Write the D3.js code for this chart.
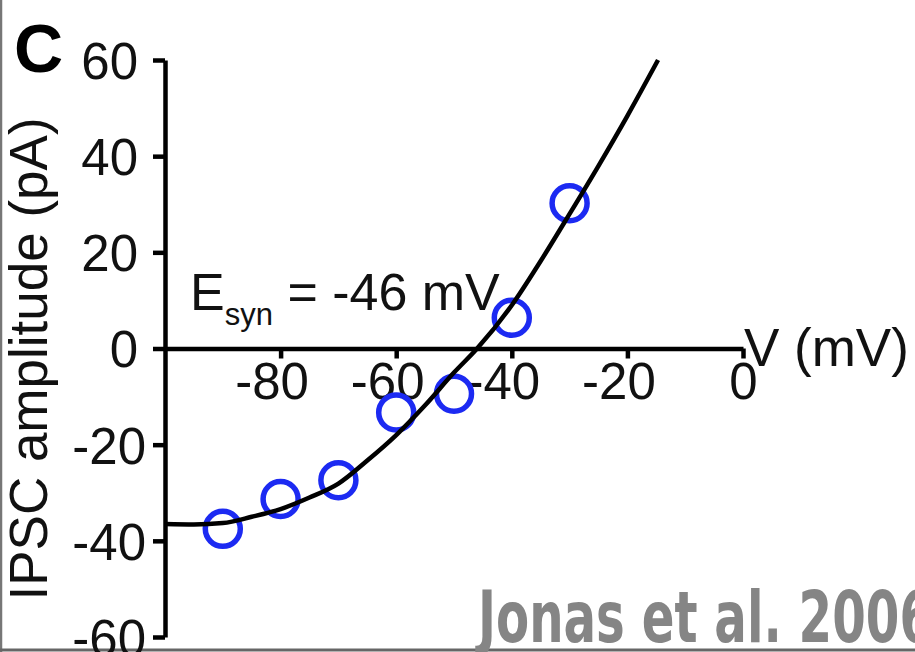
<!DOCTYPE html>
<html>
<head>
<meta charset="utf-8">
<script src="https://cdn.jsdelivr.net/npm/d3@7"></script>
<style>
  html, body { margin: 0; padding: 0; background: #fff; }
  svg { display: block; }
  .axis path, .axis line { stroke: #000; stroke-width: 4.5; }
  .axis text { font-family: "Liberation Sans", Arial, sans-serif; font-size: 51px; fill: #111; }
</style>
</head>
<body>
<svg id="chart"></svg>
<script>
// measured points (holding potential vs IPSC amplitude)
const voltages = [-90, -80, -70, -60, -50, -40, -30];
const amplitudes = [-37.5, -31.3, -27.4, -13.3, -9.4, 6.4, 30.2];

// fitted curve
const fitV = [-100, -95, -90, -85, -80, -75, -70, -65, -60, -55, -50, -46, -40, -35, -30, -25, -20, -14.7];
const fitI = [-36.5, -36.6, -36.3, -35.0, -33.4, -31.0, -28.1, -23.3, -18.0, -11.8, -5.0, 0, 9.0, 18.2, 28.0, 38.0, 48.4, 60.0];

const xTicks = [-80, -60, -40, -20, 0];
const yTicks = [-60, -40, -20, 0, 20, 40, 60];

const W = 915, H = 652;
const svg = d3.select("#chart").attr("width", W).attr("height", H);

const xScale = d3.scaleLinear()
    .domain([-100, 0])
    .range([165, 743]);

const yScale = d3.scaleLinear()
    .domain([-60, 60])
    .range([637, 60]);

// plain hyphen minus like the original figure
const fmt = d => String(d);

// frame edges (left + bottom visible in figure)
svg.append("line").attr("x1", 1).attr("y1", 0).attr("x2", 1).attr("y2", H)
    .style("stroke", "#777").style("stroke-width", 2.5);
svg.append("line").attr("x1", 0).attr("y1", 650).attr("x2", W).attr("y2", 650)
    .style("stroke", "#666").style("stroke-width", 3);

// Y axis
const yAxis = svg.append("g")
    .attr("class", "axis y")
    .attr("transform", "translate(" + xScale(-100) + ",0)")
    .call(d3.axisLeft(yScale).tickValues(yTicks).tickSize(12).tickSizeOuter(0).tickFormat(fmt));
yAxis.selectAll("text")
    .attr("x", d => d < 0 ? -19 : -27)
    .attr("dy", "0.36em")
    .style("text-anchor", "end");

// X axis through zero
const xAxis = svg.append("g")
    .attr("class", "axis x")
    .attr("transform", "translate(0," + yScale(0) + ")")
    .call(d3.axisBottom(xScale).tickValues(xTicks).tickSize(10).tickSizeOuter(0).tickFormat(fmt));
xAxis.selectAll("text")
    .attr("y", 50)
    .attr("dy", 0)
    .attr("dx", d => d < 0 ? -9 : 0)
    .style("text-anchor", "middle");

// data circles
svg.selectAll(".dot")
    .data(voltages.map((v, i) => ({ x: v, y: amplitudes[i] })))
    .enter().append("circle")
    .attr("class", "dot")
    .attr("cx", d => xScale(d.x))
    .attr("cy", d => yScale(d.y))
    .attr("r", 17.5)
    .style("fill", "none")
    .style("stroke", "#1c2af2")
    .style("stroke-width", 5.5);

// fit line
const line = d3.line()
    .x(d => xScale(d.x))
    .y(d => yScale(d.y))
    .curve(d3.curveMonotoneX);

svg.append("path")
    .datum(fitV.map((v, i) => ({ x: v, y: fitI[i] })))
    .attr("d", line)
    .style("fill", "none")
    .style("stroke", "#000")
    .style("stroke-width", 4.5);

const font = '"Liberation Sans", Arial, sans-serif';

// panel letter
svg.append("text")
    .attr("x", 14).attr("y", 72)
    .style("font-family", font).style("font-weight", "bold").style("font-size", "68px")
    .text("C");

// y title
svg.append("text")
    .attr("transform", "translate(47,359) rotate(-90)")
    .style("font-family", font).style("font-size", "53px").style("fill", "#111")
    .style("text-anchor", "middle")
    .text("IPSC amplitude (pA)");

// x title
svg.append("text")
    .attr("x", 744).attr("y", 366)
    .style("font-family", font).style("font-size", "53px").style("fill", "#111")
    .text("V (mV)");

// reversal potential
const esyn = svg.append("text")
    .attr("x", 190).attr("y", 310)
    .style("font-family", font).style("font-size", "52px").style("fill", "#111");
esyn.append("tspan").text("E");
esyn.append("tspan").attr("dy", 15).style("font-size", "31px").text("syn");
esyn.append("tspan").attr("dy", -15).text(" = -46 mV");

// citation
svg.append("text")
    .attr("x", 478).attr("y", 642)
    .attr("textLength", 455)
    .attr("lengthAdjust", "spacingAndGlyphs")
    .style("font-family", '"DejaVu Sans Condensed", "DejaVu Sans", sans-serif')
    .style("font-weight", "bold")
    .style("font-size", "72px")
    .style("fill", "#858585")
    .text("Jonas et al. 2006");
</script>
</body>
</html>
